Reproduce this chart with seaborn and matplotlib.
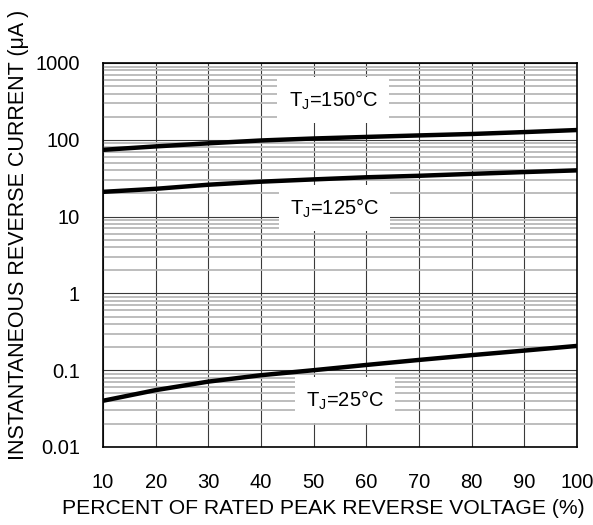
import numpy as np
import pandas as pd
import matplotlib
matplotlib.use('Agg')
import matplotlib.pyplot as plt
import matplotlib.ticker as mticker
import seaborn as sns

sns.set_style("white")
plt.rcParams['font.family'] = ['Liberation Sans', 'DejaVu Sans']
plt.rcParams['mathtext.default'] = 'regular'
plt.rcParams['text.color'] = 'black'
plt.rcParams['axes.labelcolor'] = 'black'
plt.rcParams['xtick.color'] = 'black'
plt.rcParams['ytick.color'] = 'black'

# Reverse current vs percent of rated peak reverse voltage
voltage_pct = [10, 20, 30, 40, 50, 60, 70, 80, 90, 100]
current_150c = [74, 82, 90, 98, 104, 109, 114, 119, 126, 134]
current_125c = [21, 23, 26, 28.5, 30.5, 32.5, 34, 36, 38, 40]
current_25c = [0.040, 0.055, 0.071, 0.086, 0.100, 0.117, 0.136, 0.157, 0.180, 0.207]

y_ticks = [0.01, 0.1, 1, 10, 100, 1000]
y_tick_labels = ['0.01', '0.1', '1', '10', '100', '1000']
x_ticks = [10, 20, 30, 40, 50, 60, 70, 80, 90, 100]

df = pd.DataFrame({
    'pct': voltage_pct * 3,
    'current': current_150c + current_125c + current_25c,
    'tj': ['150'] * 10 + ['125'] * 10 + ['25'] * 10,
})

fig = plt.figure(figsize=(5.93, 5.25), dpi=100)
ax = fig.add_axes([0.1737, 0.1486, 0.7993, 0.7314])

sns.lineplot(data=df, x='pct', y='current', units='tj', estimator=None,
             color='black', linewidth=3.2, ax=ax, legend=False)

ax.set_yscale('log')
ax.set_xlim(10, 100)
ax.set_ylim(0.01, 1000)
ax.set_xticks(x_ticks)
ax.set_xticklabels([str(v) for v in x_ticks])
ax.set_yticks(y_ticks)
ax.set_yticklabels(y_tick_labels)
ax.yaxis.set_minor_locator(mticker.LogLocator(base=10, subs=np.arange(2, 10)))
ax.yaxis.set_minor_formatter(mticker.NullFormatter())

ax.grid(which='major', axis='both', color='#3a3a3a', linewidth=0.8)
ax.grid(which='minor', axis='y', color='#b8b8b8', linewidth=1.3)
ax.set_axisbelow(True)
ax.tick_params(which='both', length=0)
ax.tick_params(axis='y', pad=16.5, labelsize=14.5)
ax.tick_params(axis='x', pad=18.5, labelsize=14.5)

for s in ax.spines.values():
    s.set_color('black')
    s.set_linewidth(1.2)

ax.set_xlabel('PERCENT OF RATED PEAK REVERSE VOLTAGE (%)', fontsize=15.2)
ax.set_ylabel('INSTANTANEOUS REVERSE CURRENT (μA )', fontsize=15.5)
ax.xaxis.set_label_coords(0.464, -0.135)
ax.yaxis.set_label_coords(-0.156, 0.552)

box = dict(facecolor='white', edgecolor='none', pad=8)
ax.text(53.7, 330, 'T$_J$=150°C', fontsize=14.5, ha='center', va='center', bbox=box)
ax.text(53.9, 12.9, 'T$_J$=125°C', fontsize=14.5, ha='center', va='center', bbox=box)
ax.text(56, 0.041, 'T$_J$=25°C', fontsize=14.5, ha='center', va='center', bbox=box)

fig.savefig('out.png', dpi=100)
